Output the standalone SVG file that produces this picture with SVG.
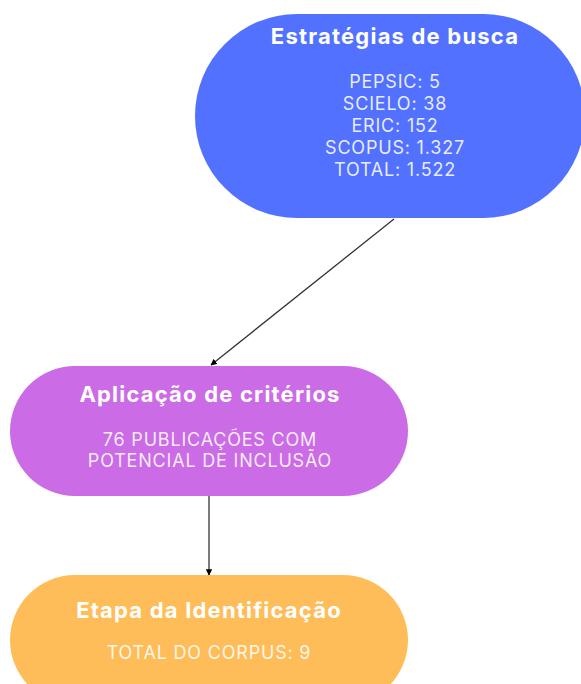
<svg xmlns="http://www.w3.org/2000/svg" width="581" height="684" viewBox="0 0 581 684">
<defs>
<style>
.title{font-family:Inter,"Noto Sans",sans-serif;font-weight:700;font-size:22px;letter-spacing:1.2px;fill:#ffffff;text-anchor:middle}
.body{font-family:Inter,"Noto Sans",sans-serif;font-weight:400;font-size:18px;letter-spacing:0.8px;fill:#ffffff;fill-opacity:0.88;text-anchor:middle}
.conn{stroke:#333333;stroke-width:1.3;fill:none;marker-end:url(#arr)}
</style>
<marker id="arr" viewBox="0 0 10 10" refX="9" refY="5" markerWidth="5" markerHeight="5" orient="auto">
<path d="M0,0 L10,5 L0,10 z" fill="#000"/>
</marker>
</defs>
<rect width="581" height="684" fill="#ffffff"/>
<g id="connectors">
<line class="conn" x1="394" y1="219" x2="211" y2="365"/>
<line class="conn" x1="209" y1="496" x2="209" y2="575"/>
</g>
<g id="node-estrategias">
<rect x="195" y="14" width="390" height="204" rx="102" fill="#5271FF"/>
<text class="title" x="395" y="44">Estratégias de busca</text>
<text class="body" x="395" y="88">PEPSIC: 5</text>
<text class="body" x="395" y="110">SCIELO: 38</text>
<text class="body" x="395" y="132">ERIC: 152</text>
<text class="body" x="395" y="154">SCOPUS: 1.327</text>
<text class="body" x="395" y="176">TOTAL: 1.522</text>
</g>
<g id="node-aplicacao">
<rect x="10" y="366" width="398" height="130" rx="65" fill="#CB6CE6"/>
<text class="title" x="210" y="402">Aplicação de critérios</text>
<text class="body" x="210" y="446">76 PUBLICAÇÕES COM</text>
<text class="body" x="210" y="467">POTENCIAL DE INCLUSÃO</text>
</g>
<g id="node-etapa">
<rect x="10" y="575" width="398" height="130" rx="65" fill="#FFBD59"/>
<text class="title" x="209" y="618">Etapa da Identificação</text>
<text class="body" x="209" y="659">TOTAL DO CORPUS: 9</text>
</g>
</svg>
